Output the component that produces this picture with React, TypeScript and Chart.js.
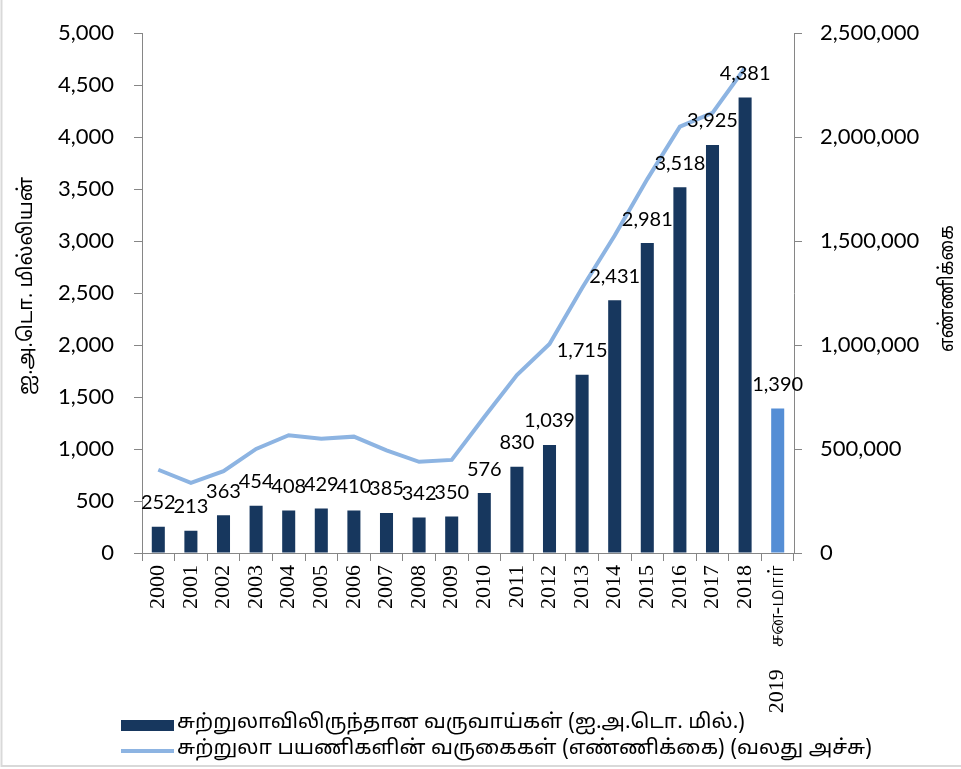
import React, { useEffect, useRef } from 'react';
import { Chart, registerables } from 'chart.js';

Chart.register(...registerables);

// ---- Data ----
const categories = [
  '2000', '2001', '2002', '2003', '2004', '2005', '2006', '2007', '2008', '2009',
  '2010', '2011', '2012', '2013', '2014', '2015', '2016', '2017', '2018', '2019    சன-மார்',
];
const revenueUSDmn = [252, 213, 363, 454, 408, 429, 410, 385, 342, 350, 576, 830, 1039, 1715, 2431, 2981, 3518, 3925, 4381, 1390];
const touristArrivals = [
  400414, 336794, 393171, 500642, 566202, 549308, 559603, 494008, 438475, 447890,
  654476, 855975, 1005605, 1274593, 1527153, 1798380, 2050832, 2116407, 2333796, null,
];
const leftTicks = [0, 500, 1000, 1500, 2000, 2500, 3000, 3500, 4000, 4500, 5000];
const rightTicks = [0, 500000, 1000000, 1500000, 2000000, 2500000];

const revenueLabel = 'சுற்றுலாவிலிருந்தான வருவாய்கள் (ஐ.அ.டொ. மில்.)';
const arrivalsLabel = 'சுற்றுலா பயணிகளின் வருகைகள் (எண்ணிக்கை) (வலது அச்சு)';
const leftTitle = 'ஐ.அ.டொ. மில்லியன்';
const rightTitle = 'எண்ணிக்கை';

// ---- Styles ----
const DARK = '#17375E';
const LIGHT_BAR = '#558ED5';
const LINE = '#8DB4E2';
const AXIS = '#868686';
const TAMIL = '"Noto Sans Tamil", "Lohit Tamil", "Noto Sans", sans-serif';
const NUM = 'Lato, "Open Sans", sans-serif';

const fmt = (v: number) => v.toLocaleString('en-US');

const decorPlugin = {
  id: 'decor',
  afterDatasetsDraw(chart: any) {
    const ctx = chart.ctx;
    const meta = chart.getDatasetMeta(1);
    ctx.save();
    ctx.font = `20px ${NUM}`;
    ctx.fillStyle = '#000';
    ctx.textAlign = 'center';
    ctx.textBaseline = 'middle';
    meta.data.forEach((el: any, i: number) => {
      ctx.fillText(fmt(revenueUSDmn[i]), el.x, el.y - 24);
    });
    ctx.restore();
  },
  afterDraw(chart: any) {
    const ctx = chart.ctx;
    ctx.save();
    // outer frame (left & bottom visible)
    ctx.strokeStyle = '#D9D9D9';
    ctx.lineWidth = 2;
    ctx.beginPath();
    ctx.moveTo(1.5, 0);
    ctx.lineTo(1.5, 766);
    ctx.lineTo(961, 766);
    ctx.stroke();

    const fitText = (text: string, x: number, y: number, width: number) => {
      const w = ctx.measureText(text).width;
      ctx.save();
      ctx.translate(x, y);
      ctx.scale(width / w, 1);
      ctx.fillText(text, 0, 0);
      ctx.restore();
    };

    // axis titles
    ctx.fillStyle = '#000';
    ctx.textBaseline = 'middle';
    ctx.textAlign = 'left';
    ctx.font = `20px ${TAMIL}`;
    ctx.save();
    ctx.translate(28, 395);
    ctx.rotate(-Math.PI / 2);
    fitText(leftTitle, 0, 0, 218);
    ctx.restore();
    ctx.save();
    ctx.translate(949, 352);
    ctx.rotate(-Math.PI / 2);
    fitText(rightTitle, 0, 0, 127);
    ctx.restore();

    // legend
    ctx.fillStyle = DARK;
    ctx.fillRect(121, 720, 53, 11);
    ctx.strokeStyle = LINE;
    ctx.lineWidth = 4;
    ctx.beginPath();
    ctx.moveTo(121, 751);
    ctx.lineTo(174, 751);
    ctx.stroke();
    ctx.fillStyle = '#000';
    ctx.font = `20px ${TAMIL}`;
    fitText(revenueLabel, 177, 724, 568);
    fitText(arrivalsLabel, 177, 750, 695);
    ctx.restore();
  },
};

export default function App() {
  const ref = useRef<HTMLCanvasElement | null>(null);
  useEffect(() => {
    if (!ref.current) return;
    const chart = new Chart(ref.current, {
      type: 'bar',
      data: {
        labels: categories,
        datasets: [
          {
            type: 'line',
            label: arrivalsLabel,
            data: touristArrivals as any,
            yAxisID: 'y1',
            borderColor: LINE,
            backgroundColor: LINE,
            borderWidth: 4,
            pointRadius: 0,
            tension: 0,
            spanGaps: false,
          },
          {
            type: 'bar',
            label: revenueLabel,
            data: revenueUSDmn,
            yAxisID: 'y',
            backgroundColor: (c: any) => (c.dataIndex === revenueUSDmn.length - 1 ? LIGHT_BAR : DARK),
            barPercentage: 0.4,
            categoryPercentage: 1,
          },
        ],
      },
      options: {
        responsive: false,
        animation: false,
        layout: { padding: { top: 31, left: 0, right: 0, bottom: 0 } },
        plugins: { legend: { display: false }, tooltip: { enabled: false } },
        scales: {
          x: {
            grid: { display: true, drawOnChartArea: false, drawTicks: true, tickLength: 8, color: AXIS, offset: true },
            border: { display: true, color: AXIS, width: 1 },
            ticks: {
              minRotation: 90,
              maxRotation: 90,
              autoSkip: false,
              padding: 4,
              color: '#000',
              font: { family: '"Liberation Serif", "Times New Roman", serif', size: 22 },
            },
            afterFit: (s: any) => { s.height = 216; },
          },
          y: {
            position: 'left',
            min: 0,
            max: 5000,
            afterBuildTicks: (s: any) => { s.ticks = leftTicks.map((v) => ({ value: v })); },
            grid: { display: true, drawOnChartArea: false, drawTicks: true, tickLength: 8, color: AXIS },
            border: { display: true, color: AXIS, width: 1 },
            ticks: {
              padding: 20,
              color: '#000',
              font: { family: NUM, size: 22 },
              callback: (v: any) => fmt(Number(v)),
            },
            afterFit: (s: any) => { s.width = 142; },
          },
          y1: {
            position: 'right',
            min: 0,
            max: 2500000,
            afterBuildTicks: (s: any) => { s.ticks = rightTicks.map((v) => ({ value: v })); },
            grid: { display: true, drawOnChartArea: false, drawTicks: true, tickLength: 8, color: AXIS },
            border: { display: true, color: AXIS, width: 1 },
            ticks: {
              padding: 18,
              color: '#000',
              font: { family: NUM, size: 22 },
              callback: (v: any) => fmt(Number(v)),
            },
            afterFit: (s: any) => { s.width = 167; },
          },
        },
      },
      plugins: [decorPlugin],
    });
    return () => chart.destroy();
  }, []);

  return (
    <div style={{ position: 'fixed', left: 0, top: 0, width: 961, height: 769, background: '#fff' }}>
      <canvas ref={ref} width={961} height={769} style={{ display: 'block' }} />
    </div>
  );
}
